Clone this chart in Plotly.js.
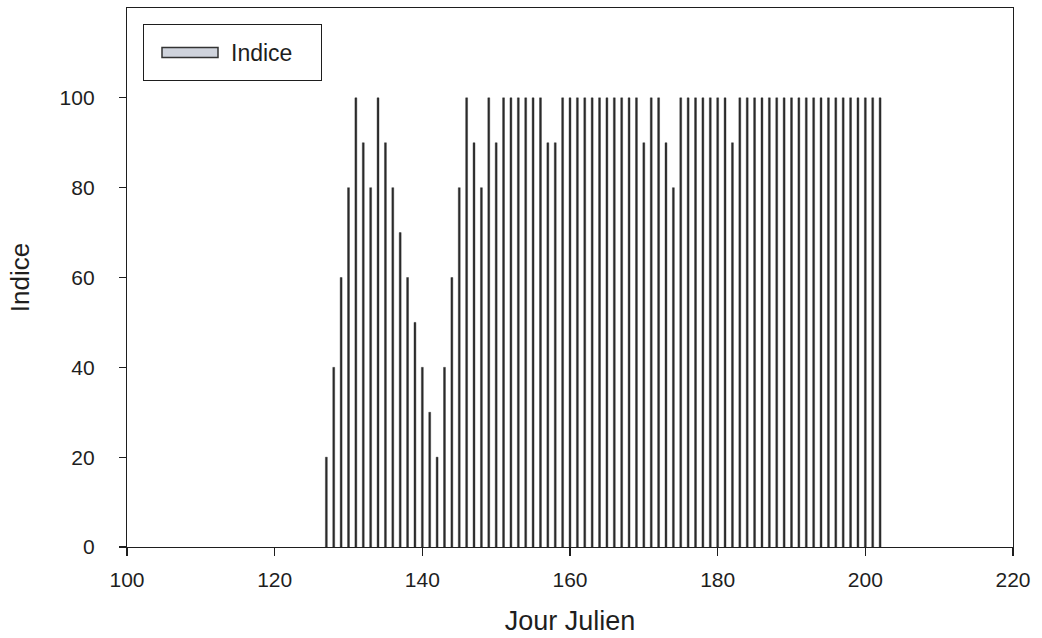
<!DOCTYPE html>
<html>
<head>
<meta charset="utf-8">
<script src="https://cdn.plot.ly/plotly-3.0.1.min.js"></script>
<style>
  html, body { margin: 0; padding: 0; background: #fff; }
  #chart { width: 1042px; height: 638px; }
</style>
</head>
<body>
<div id="chart"></div>
<script>
// Julian day of each observation
const days = [
  127, 128, 129, 130, 131, 132, 133, 134, 135, 136,
  137, 138, 139, 140, 141, 142, 143, 144, 145, 146,
  147, 148, 149, 150, 151, 152, 153, 154, 155, 156,
  157, 158, 159, 160, 161, 162, 163, 164, 165, 166,
  167, 168, 169, 170, 171, 172, 173, 174, 175, 176,
  177, 178, 179, 180, 181, 182, 183, 184, 185, 186,
  187, 188, 189, 190, 191, 192, 193, 194, 195, 196,
  197, 198, 199, 200, 201, 202
];

// Index value recorded on each day
const indice = [
  20, 40, 60, 80, 100, 90, 80, 100, 90, 80,
  70, 60, 50, 40, 30, 20, 40, 60, 80, 100,
  90, 80, 100, 90, 100, 100, 100, 100, 100, 100,
  90, 90, 100, 100, 100, 100, 100, 100, 100, 100,
  100, 100, 100, 90, 100, 100, 90, 80, 100, 100,
  100, 100, 100, 100, 100, 90, 100, 100, 100, 100,
  100, 100, 100, 100, 100, 100, 100, 100, 100, 100,
  100, 100, 100, 100, 100, 100
];

const xTicks = [100, 120, 140, 160, 180, 200, 220];
const yTicks = [0, 20, 40, 60, 80, 100];

const font = 'Liberation Sans, Arial, sans-serif';
const ink = '#1e1e1e';

const trace = {
  type: 'bar',
  x: days,
  y: indice,
  name: 'Indice',
  width: 0.26,
  marker: {
    color: '#2b2b2b',
    line: { color: '#2b2b2b', width: 0.4 }
  },
  showlegend: true
};

const layout = {
  width: 1042,
  height: 638,
  margin: { l: 127, r: 29, t: 8, b: 91 },
  paper_bgcolor: '#fff',
  plot_bgcolor: '#fff',
  font: { family: font, color: ink, size: 21 },
  showlegend: true,
  legend: {
    x: 0.01806, y: 0.9703, xanchor: 'left', yanchor: 'top',
    bgcolor: '#fff', bordercolor: ink, borderwidth: 1,
    font: { family: font, size: 23, color: ink },
    itemwidth: 77
  },
  xaxis: {
    range: [100, 220],
    tickvals: xTicks,
    ticktext: xTicks.map(String),
    ticks: 'outside', ticklen: 8, tickwidth: 1.2, tickcolor: ink,
    ticklabelstandoff: 6,
    showline: true, linecolor: ink, linewidth: 1.2, mirror: true,
    showgrid: false, zeroline: false,
    tickfont: { family: font, size: 21, color: ink },
    title: { text: 'Jour Julien', font: { family: font, size: 27, color: ink }, standoff: 20 }
  },
  yaxis: {
    range: [0, 120],
    tickvals: yTicks,
    ticktext: yTicks.map(String),
    ticks: 'outside', ticklen: 7, tickwidth: 1.2, tickcolor: ink,
    ticklabelstandoff: 20,
    showline: true, linecolor: ink, linewidth: 1.2, mirror: true,
    showgrid: false, zeroline: false,
    tickfont: { family: font, size: 21, color: ink },
    title: { text: 'Indice', font: { family: font, size: 26, color: ink }, standoff: 22 }
  },
  bargap: 0
};

// Legend: a wide light swatch inside a fixed-size framed box
function styleLegend(gd) {
  const legend = gd.querySelector('.legend');
  if (!legend) return;
  const bg = legend.querySelector('rect.bg');
  const boxW = 178, boxH = 56;
  const oldH = bg ? parseFloat(bg.getAttribute('height')) : boxH;
  if (bg) {
    bg.setAttribute('width', boxW);
    bg.setAttribute('height', boxH);
  }
  const scroll = legend.querySelector('.scrollbox');
  if (scroll) {
    const dy = (boxH - oldH) / 2;
    scroll.setAttribute('transform', 'translate(0,' + dy + ')');
  }
  legend.querySelectorAll('.legendpoints path').forEach(p => {
    p.setAttribute('d', 'M28,5H-28V-5H28Z');
    p.setAttribute('transform', 'translate(46,0)');
    p.style.fill = '#cfd3dc';
    p.style.stroke = '#333';
    p.style.strokeWidth = '1.5px';
  });
}

Plotly.newPlot('chart', [trace], layout, { staticPlot: true, displayModeBar: false })
  .then(gd => styleLegend(gd));
</script>
</body>
</html>
